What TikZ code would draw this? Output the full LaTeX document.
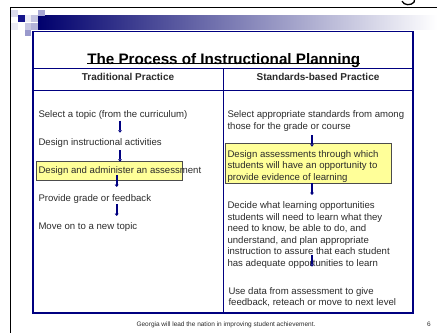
\documentclass[tikz,border=0pt]{standalone}
\usepackage{fontspec}
\setmainfont{Liberation Sans}
\usetikzlibrary{arrows.meta}
\definecolor{slidenavy}{HTML}{000080}
\definecolor{boxyellow}{HTML}{FFFF99}
\definecolor{slidetext}{HTML}{2B2B2B}
\tikzset{
  stepflow/.style={draw=slidenavy, line width=1.6pt, -{Triangle[length=2.4pt,width=3.8pt]}},
  bodytext/.style={anchor=base west, inner sep=0pt, align=left, text=slidetext, font=\fontsize{9.6}{11.5}\selectfont},
  headtext/.style={anchor=base, inner sep=0pt, text=slidetext, font=\fontsize{10}{12}\selectfont\bfseries},
  markbox/.style={fill=boxyellow, draw=black!70, line width=0.6pt},
}

\begin{document}
\begin{tikzpicture}[x=1pt,y=1pt,yscale=-1,xscale=1]
	\useasboundingbox (0,0) rectangle (437,333);
	
	%Shape: Slide frame
	\draw [line width=1.5pt] (10,7.5) -- (437,7.5) ;
	\draw [line width=1.5pt] (10.5,7) -- (10.5,333) ;
	%Shape: Cut glyph at top
	\draw [line width=1.3pt] (402,1.2) .. controls (404,5.5) and (411,5.8) .. (414,2.2) -- (414.5,0) ;
	
	%Shape: Gradient band
	\shade [left color=slidenavy!85!black, right color=white] (38,15.3) rectangle (437,29.7) ;
	%Shape: Pixel squares
	\foreach \px/\py/\pc in {11/10/slidenavy!14, 11/23/slidenavy!8, 18/15.3/slidenavy!92, 24.7/15.3/slidenavy!8, 31.3/15.3/slidenavy!24, 38/9.7/slidenavy!34, 24.7/23/slidenavy!22, 31.3/23/slidenavy!30, 24.7/29.7/slidenavy!40}
		\fill [\pc] (\px,\py) rectangle ++(6.7,6.7) ;
	
	%Shape: Table
	\draw [draw=slidenavy, line width=1.5pt] (33,31.7) rectangle (413,313) ;
	%Straight Lines
	\draw [draw=slidenavy, line width=0.8pt] (33,68) -- (413,68) ;
	\draw [draw=slidenavy, line width=0.8pt] (33,90.7) -- (413,90.7) ;
	\draw [draw=slidenavy, line width=0.8pt] (223,68) -- (223,313) ;
	
	%Shape: Highlight boxes
	\draw [markbox] (36.7,161.7) rectangle (182.3,180) ;
	\draw [markbox] (225,143.3) rectangle (391.7,183.3) ;
	
	% Text Node
	\draw (223.7,64.3) node (title) [anchor=base][inner sep=0pt] {\fontsize{15.2}{18}\selectfont\bfseries The Process of Instructional Planning};
	\draw [line width=0.9pt] ([yshift=-1.3pt]title.base west) -- ([yshift=-1.3pt]title.base east) ;
	% Text Node
	\draw (128,80) node (tradhead) [headtext] {Traditional Practice};
	% Text Node
	\draw (318,80) node (stdhead) [headtext] {Standards-based Practice};
	
	% Text Node
	\draw (38.3,117.3) node (topic) [bodytext] {Select a topic (from the curriculum)};
	% Text Node
	\draw (38.3,145) node (activities) [bodytext] {Design instructional activities};
	% Text Node
	\draw (38.3,173.3) node (administer) [bodytext] {Design and administer an assessment};
	% Text Node
	\draw (38.3,201) node (grade) [bodytext] {Provide grade or feedback};
	% Text Node
	\draw (38.3,229.3) node (newtopic) [bodytext] {Move on to a new topic};
	
	% Text Node (base is the last line)
	\draw (227.3,129) node (standards) [bodytext] {Select appropriate standards from among\\those for the grade or course};
	% Text Node
	\draw (227.3,180.3) node (assess) [bodytext] {Design assessments through which\\students will have an opportunity to\\provide evidence of learning};
	% Text Node
	\draw (227.3,266) node (decide) [bodytext] {Decide what learning opportunities\\students will need to learn what they\\need to know, be able to do, and\\understand, and plan appropriate\\instruction to assure that each student\\has adequate opportunities to learn};
	% Text Node
	\draw (228.3,305.6) node (usedata) [bodytext] {Use data from assessment to give\\feedback, reteach or move to next level};
	
	% Text Node
	\draw (226,326.5) node (footer) [anchor=base][inner sep=0pt] {\fontsize{6.5}{8}\selectfont\color{slidetext} Georgia will lead the nation in improving student achievement.};
	% Text Node
	\draw (429,326.5) node (pagenum) [anchor=base][inner sep=0pt] {\fontsize{6.5}{8}\selectfont\color{slidetext} 6};
	
	%Arrow ends
	\coordinate (l1a) at (120,120.7) ; \coordinate (l1b) at (120,132.7) ;
	\coordinate (l2a) at (120,150) ; \coordinate (l2b) at (120,161.7) ;
	\coordinate (l3a) at (116.7,175) ; \coordinate (l3b) at (116.7,187) ;
	\coordinate (l4a) at (116.7,204) ; \coordinate (l4b) at (116.7,216) ;
	\coordinate (r1a) at (312,135) ; \coordinate (r1b) at (312,146.7) ;
	\coordinate (r2a) at (312,183.3) ; \coordinate (r2b) at (312,195) ;
	\coordinate (r3a) at (312,255) ; \coordinate (r3b) at (312,266.7) ;
	%Straight Lines
	\foreach \aa/\ab in {l1a/l1b, l2a/l2b, l3a/l3b, l4a/l4b, r1a/r1b, r2a/r2b, r3a/r3b}
		\draw [stepflow] (\aa) -- (\ab) ;
	
\end{tikzpicture}
\end{document}
